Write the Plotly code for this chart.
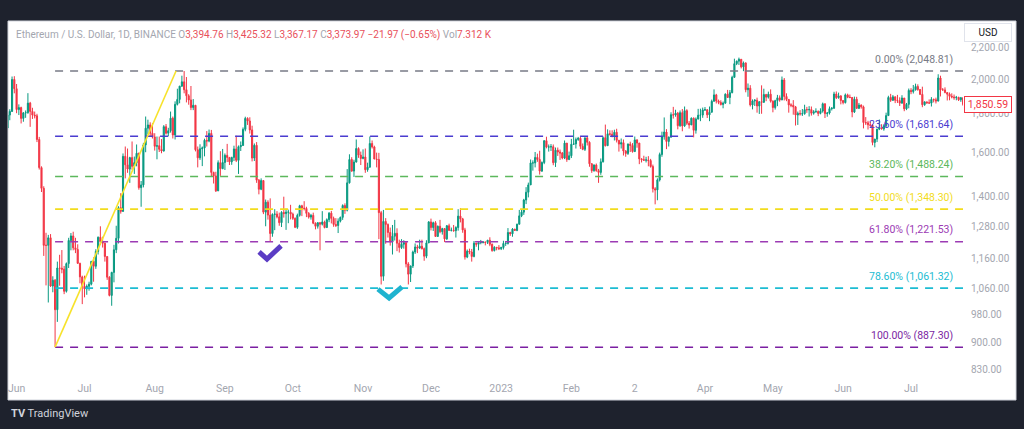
import math
import pandas as pd
import plotly.graph_objects as go

# ---------------- data ----------------
START_DATE = "2022-05-28"
FIRST_OPEN = 1724.0

close = [
    # May 28-31 2022
    1793, 1813, 1997, 1942,
    # Jun 2022
    1823, 1834, 1775, 1805, 1806, 1859, 1813, 1793, 1789, 1665,
    1529, 1436, 1208, 1208, 1236, 1068, 1087, 994, 1128, 1127,
    1124, 1051, 1143, 1226, 1243, 1199, 1193, 1144, 1098, 1067,
    # Jul 2022
    1059, 1067, 1074, 1151, 1134, 1186, 1238, 1222, 1216, 1168,
    1097, 1038, 1113, 1192, 1234, 1354, 1339, 1582, 1542, 1522,
    1576, 1535, 1552, 1597, 1439, 1451, 1638, 1723, 1740, 1697, 1678,
    # Aug 2022
    1631, 1634, 1616, 1608, 1731, 1697, 1710, 1776, 1688, 1852,
    1880, 1957, 1983, 1936, 1901, 1877, 1834, 1847, 1614, 1575,
    1619, 1623, 1661, 1657, 1696, 1507, 1491, 1425, 1552, 1524, 1553,
    # Sep 2022
    1587, 1577, 1556, 1577, 1618, 1563, 1629, 1635, 1717, 1775,
    1761, 1714, 1574, 1636, 1472, 1432, 1470, 1336, 1377, 1324,
    1252, 1327, 1328, 1317, 1294, 1335, 1330, 1336, 1336, 1328,
    # Oct 2022
    1311, 1276, 1323, 1362, 1352, 1351, 1331, 1316, 1323, 1292,
    1280, 1294, 1288, 1297, 1275, 1306, 1332, 1311, 1287, 1283,
    1300, 1315, 1363, 1344, 1460, 1567, 1513, 1555, 1620, 1588, 1572,
    # Nov 2022
    1579, 1519, 1531, 1645, 1628, 1569, 1567, 1334, 1100, 1299,
    1287, 1256, 1221, 1242, 1253, 1216, 1200, 1212, 1218, 1142,
    1107, 1135, 1184, 1202, 1198, 1205, 1196, 1169, 1217, 1297,
    # Dec 2022
    1275, 1294, 1241, 1280, 1259, 1271, 1232, 1282, 1264, 1265,
    1263, 1275, 1320, 1309, 1266, 1166, 1187, 1184, 1168, 1216,
    1212, 1218, 1219, 1220, 1219, 1227, 1212, 1189, 1201, 1199, 1196,
    # Jan 2023
    1200, 1215, 1215, 1256, 1251, 1269, 1264, 1288, 1321, 1336,
    1386, 1419, 1451, 1551, 1551, 1577, 1567, 1513, 1553, 1659,
    1627, 1628, 1629, 1552, 1612, 1603, 1598, 1574, 1647, 1567, 1585,
    # Feb 2023
    1641, 1643, 1665, 1671, 1631, 1616, 1673, 1651, 1547, 1515,
    1541, 1515, 1507, 1556, 1674, 1634, 1694, 1692, 1680, 1702,
    1661, 1642, 1649, 1608, 1596, 1642, 1635, 1605,
    # Mar 2023
    1663, 1647, 1570, 1566, 1564, 1565, 1562, 1534, 1434, 1429,
    1473, 1591, 1679, 1703, 1655, 1677, 1795, 1793, 1803, 1736,
    1806, 1735, 1817, 1749, 1740, 1776, 1712, 1771, 1792, 1793, 1821,
    # Apr 2023
    1822, 1794, 1808, 1869, 1906, 1871, 1863, 1851, 1859, 1910,
    1891, 1919, 2010, 2095, 2111, 2123, 2075, 2100, 1936, 1945,
    1849, 1871, 1875, 1843, 1867, 1864, 1908, 1893, 1910, 1870,
    # May 2023
    1834, 1873, 1889, 1877, 1994, 1897, 1880, 1849, 1847, 1838,
    1793, 1802, 1799, 1800, 1823, 1822, 1823, 1803, 1811, 1813,
    1802, 1815, 1855, 1801, 1804, 1828, 1831, 1911, 1890, 1900, 1874,
    # Jun 2023
    1862, 1906, 1892, 1891, 1810, 1881, 1830, 1848, 1838, 1753,
    1751, 1741, 1738, 1650, 1667, 1718, 1727, 1719, 1736, 1790,
    1891, 1875, 1895, 1875, 1873, 1859, 1888, 1827, 1852, 1932,
    # Jul 1-24 2023
    1925, 1936, 1955, 1937, 1909, 1850, 1866, 1861, 1859, 1880,
    1878, 1871, 2006, 1935, 1935, 1920, 1910, 1898, 1894, 1890,
    1892, 1878, 1890, 1850.59,
]

high = [
    1805, 1825, 2015, 2017,
    1970, 1852, 1839, 1809, 1818, 1916, 1866, 1833, 1812, 1800,
    1678, 1535, 1445, 1255, 1247, 1250, 1100, 1091, 1150, 1174,
    1191, 1135, 1147, 1236, 1254, 1259, 1236, 1212, 1146, 1102,
    1102, 1073, 1082, 1152, 1165, 1194, 1241, 1280, 1240, 1218,
    1168, 1100, 1115, 1210, 1282, 1360, 1415, 1596, 1630, 1620,
    1580, 1655, 1581, 1640, 1600, 1468, 1648, 1785, 1768, 1754, 1750,
    1697, 1680, 1680, 1667, 1739, 1745, 1725, 1812, 1785, 1869,
    1942, 1959, 2020, 2048.81, 2012, 1910, 1958, 1882, 1848, 1630,
    1641, 1630, 1669, 1708, 1716, 1714, 1510, 1510, 1563, 1607, 1618,
    1596, 1643, 1579, 1580, 1634, 1684, 1635, 1655, 1727, 1784,
    1781, 1781, 1736, 1645, 1652, 1477, 1480, 1472, 1388, 1385,
    1393, 1331, 1348, 1340, 1334, 1340, 1400, 1350, 1346, 1366,
    1334, 1315, 1330, 1366, 1366, 1381, 1358, 1336, 1329, 1334,
    1295, 1296, 1297, 1340, 1302, 1311, 1336, 1341, 1318, 1312,
    1311, 1318, 1368, 1372, 1522, 1592, 1578, 1566, 1665, 1626, 1605,
    1616, 1620, 1552, 1680, 1660, 1634, 1600, 1599, 1341, 1345,
    1312, 1291, 1275, 1285, 1305, 1272, 1229, 1231, 1227, 1224,
    1148, 1136, 1189, 1215, 1210, 1229, 1229, 1200, 1227, 1300,
    1310, 1298, 1300, 1283, 1305, 1274, 1273, 1285, 1290, 1275,
    1285, 1280, 1348, 1352, 1313, 1274, 1193, 1196, 1195, 1224,
    1217, 1221, 1228, 1224, 1222, 1228, 1238, 1215, 1205, 1202, 1209,
    1203, 1225, 1223, 1273, 1259, 1273, 1270, 1290, 1345, 1349,
    1391, 1441, 1461, 1567, 1563, 1603, 1595, 1609, 1558, 1661,
    1679, 1640, 1642, 1640, 1625, 1625, 1615, 1603, 1660, 1640, 1605,
    1668, 1715, 1675, 1678, 1680, 1645, 1676, 1680, 1656, 1550,
    1544, 1548, 1523, 1572, 1680, 1742, 1717, 1712, 1712, 1715,
    1720, 1662, 1670, 1665, 1612, 1645, 1654, 1647,
    1680, 1666, 1648, 1573, 1585, 1580, 1583, 1570, 1543, 1441,
    1480, 1600, 1705, 1780, 1718, 1680, 1808, 1838, 1822, 1810,
    1818, 1826, 1840, 1825, 1761, 1780, 1780, 1780, 1827, 1828, 1834,
    1837, 1825, 1840, 1879, 1938, 1912, 1879, 1875, 1868, 1915,
    1935, 1934, 2020, 2127, 2115, 2134, 2125, 2109, 2103, 1973,
    1963, 1880, 1882, 1890, 1870, 1962, 1942, 1912, 1925, 1938,
    1875, 1878, 1906, 1903, 2015, 2006, 1915, 1882, 1858, 1876,
    1843, 1812, 1820, 1826, 1850, 1838, 1842, 1840, 1820, 1830,
    1818, 1830, 1862, 1858, 1810, 1840, 1836, 1924, 1926, 1919, 1904,
    1875, 1914, 1913, 1908, 1894, 1896, 1895, 1860, 1852, 1845,
    1782, 1762, 1757, 1745, 1668, 1720, 1769, 1744, 1744, 1806,
    1901, 1912, 1905, 1896, 1906, 1892, 1904, 1887, 1860, 1943,
    1945, 1964, 1972, 1968, 1940, 1954, 1869, 1868, 1880, 1893,
    1885, 1890, 2029, 2020, 1946, 1950, 1920, 1920, 1915, 1908,
    1900, 1895, 1894, 1889,
]

low = [
    1715, 1765, 1810, 1915,
    1803, 1793, 1748, 1757, 1778, 1800, 1730, 1772, 1775, 1652,
    1520, 1420, 1170, 1070, 1016, 1065, 1048, 887.30, 958, 1069,
    1110, 1042, 1047, 1128, 1190, 1190, 1180, 1142, 1077, 1011,
    1032, 1040, 1053, 1070, 1082, 1125, 1175, 1210, 1200, 1150,
    1088, 1035, 1006, 1080, 1180, 1215, 1330, 1338, 1480, 1505,
    1460, 1519, 1500, 1535, 1430, 1358, 1440, 1602, 1691, 1680, 1670,
    1610, 1568, 1603, 1597, 1605, 1690, 1681, 1700, 1670, 1665,
    1846, 1858, 1953, 1915, 1863, 1850, 1820, 1820, 1606, 1530,
    1565, 1536, 1582, 1630, 1651, 1488, 1457, 1420, 1424, 1491, 1522,
    1518, 1555, 1541, 1542, 1560, 1555, 1500, 1608, 1634, 1707,
    1740, 1695, 1558, 1560, 1460, 1410, 1428, 1328, 1280, 1306,
    1221, 1240, 1265, 1311, 1282, 1277, 1314, 1266, 1292, 1307,
    1305, 1273, 1270, 1318, 1320, 1343, 1316, 1310, 1306, 1288,
    1268, 1271, 1190, 1283, 1272, 1274, 1296, 1291, 1278, 1277,
    1254, 1295, 1305, 1329, 1339, 1457, 1510, 1486, 1553, 1575, 1541,
    1568, 1505, 1510, 1529, 1620, 1569, 1530, 1231, 1073, 1085,
    1214, 1237, 1207, 1175, 1226, 1187, 1182, 1195, 1196, 1130,
    1073, 1081, 1128, 1177, 1180, 1195, 1193, 1153, 1162, 1217,
    1264, 1262, 1240, 1241, 1253, 1248, 1220, 1228, 1263, 1260,
    1259, 1237, 1263, 1295, 1255, 1157, 1162, 1176, 1150, 1165,
    1203, 1190, 1212, 1215, 1208, 1213, 1205, 1185, 1186, 1190, 1191,
    1191, 1193, 1206, 1211, 1243, 1240, 1262, 1261, 1287, 1316,
    1325, 1369, 1397, 1451, 1515, 1530, 1556, 1497, 1509, 1545,
    1621, 1605, 1608, 1540, 1532, 1584, 1565, 1568, 1569, 1556, 1564,
    1574, 1639, 1620, 1658, 1618, 1612, 1608, 1635, 1533, 1505,
    1510, 1510, 1460, 1496, 1553, 1630, 1637, 1685, 1676, 1660,
    1650, 1605, 1620, 1586, 1580, 1589, 1603, 1600,
    1604, 1624, 1545, 1553, 1560, 1553, 1535, 1529, 1418, 1368,
    1385, 1466, 1580, 1664, 1617, 1630, 1673, 1774, 1784, 1717,
    1730, 1707, 1730, 1740, 1721, 1740, 1676, 1695, 1770, 1760, 1778,
    1816, 1777, 1760, 1808, 1869, 1857, 1853, 1846, 1830, 1855,
    1888, 1853, 1915, 2008, 2086, 2087, 2065, 2048, 1921, 1895,
    1840, 1824, 1843, 1806, 1799, 1800, 1860, 1870, 1885, 1862,
    1808, 1823, 1842, 1867, 1876, 1874, 1870, 1806, 1836, 1795,
    1737, 1740, 1790, 1788, 1795, 1805, 1785, 1790, 1795, 1805,
    1787, 1797, 1806, 1777, 1784, 1796, 1818, 1826, 1882, 1884, 1852,
    1852, 1857, 1887, 1887, 1781, 1804, 1826, 1826, 1828, 1722,
    1740, 1716, 1732, 1636, 1626, 1652, 1713, 1716, 1710, 1730,
    1790, 1866, 1871, 1859, 1860, 1843, 1855, 1814, 1820, 1830,
    1910, 1914, 1931, 1930, 1905, 1836, 1844, 1855, 1855, 1840,
    1863, 1857, 1868, 1897, 1931, 1915, 1874, 1875, 1886, 1878,
    1875, 1871, 1866, 1843,
]

month_ticks = ["2022-06-01", "2022-07-01", "2022-08-01", "2022-09-01", "2022-10-01",
               "2022-11-01", "2022-12-01", "2023-01-01", "2023-02-01", "2023-03-01",
               "2023-04-01", "2023-05-01", "2023-06-01", "2023-07-01"]
month_labels = ["Jun", "Jul", "Aug", "Sep", "Oct", "Nov", "Dec", "2023",
                "Feb", "2", "Apr", "May", "Jun", "Jul"]
price_ticks = [830, 900, 980, 1060, 1160, 1280, 1400, 1600, 1800, 2000, 2200]

fib_ratios = [0.0, 0.236, 0.382, 0.5, 0.618, 0.786, 1.0]
fib_prices = [2048.81, 1681.64, 1488.24, 1348.30, 1221.53, 1061.32, 887.30]
fib_colors = ["#787b86", "#4a3cd0", "#5cb85c", "#f2dc1c", "#9c3bb4", "#1cbcd2", "#7b1fa2"]
fib_start = "2022-06-18"
fib_end = "2023-09-01"

trend_dates = ["2022-06-18", "2022-08-10 10:00"]
trend_prices = [887.30, 2048.81]

check1_dates = ["2022-09-16 02:00", "2022-09-19 14:00", "2022-09-25 19:00"]
check1_prices = [1184, 1159, 1206]
check2_dates = ["2022-11-07 14:00", "2022-11-12 12:00", "2022-11-18 05:00"]
check2_prices = [1058, 1030, 1065]

header_title = "Ethereum / U.S. Dollar, 1D, BINANCE"
header_keys = ["O", "H", "L", "C"]
header_vals = ["3,394.76", "3,425.32", "3,367.17", "3,373.97"]
header_change = "−21.97 (−0.65%)"
header_vol = "7.312 K"

# ---------------- build ----------------
dates = pd.date_range(START_DATE, periods=len(close), freq="D")
opens = [FIRST_OPEN] + close[:-1]
highs = [max(h, o, c) for h, o, c in zip(high, opens, close)]
lows = [min(l, o, c) for l, o, c in zip(low, opens, close)]

UP = "#089981"
DOWN = "#f23645"
GRAY_TXT = "#a3a6af"
FONT = "Roboto"

fig = go.Figure()
fig.add_trace(go.Candlestick(
    x=dates, open=opens, high=highs, low=lows, close=close,
    increasing=dict(line=dict(color=UP, width=1), fillcolor=UP),
    decreasing=dict(line=dict(color=DOWN, width=1), fillcolor=DOWN),
    whiskerwidth=0, showlegend=False, hoverinfo="skip",
))

for r, p, col in zip(fib_ratios, fib_prices, fib_colors):
    fig.add_trace(go.Scatter(
        x=[fib_start, fib_end], y=[p, p], mode="lines",
        line=dict(color=col, width=1.6, dash="8px,7px"),
        showlegend=False, hoverinfo="skip"))
    fig.add_annotation(
        x=0.9916, xref="paper", xanchor="right",
        y=math.log10(p), yref="y", yanchor="middle", yshift=12,
        text=f"{r*100:.2f}% ({p:,.2f})", showarrow=False,
        font=dict(family=FONT, size=10.5, color=col))

fig.add_trace(go.Scatter(x=trend_dates, y=trend_prices, mode="lines",
                         line=dict(color="#f7e22b", width=1.6),
                         showlegend=False, hoverinfo="skip"))
fig.add_trace(go.Scatter(x=check1_dates, y=check1_prices, mode="lines",
                         line=dict(color="#5b3cc4", width=5),
                         showlegend=False, hoverinfo="skip"))
fig.add_trace(go.Scatter(x=check2_dates, y=check2_prices, mode="lines",
                         line=dict(color="#1fb3cf", width=5),
                         showlegend=False, hoverinfo="skip"))

# header
red = "#e8505b"
parts = [f"<span style='color:{GRAY_TXT}'>{header_title}</span>"]
for k, v in zip(header_keys, header_vals):
    parts.append(f"&nbsp;<span style='color:{GRAY_TXT}'>{k}</span><span style='color:{red}'>{v}</span>")
parts.append(f"&nbsp;<span style='color:{red}'>{header_change}</span>")
parts.append(f"&nbsp;<span style='color:{GRAY_TXT}'>Vol</span><span style='color:{red}'>{header_vol}</span>")
fig.add_annotation(x=0.0063, xref="paper", xanchor="left", y=0.9606, yref="paper",
                   yanchor="middle", text="".join(parts), showarrow=False,
                   font=dict(family=FONT, size=10))

# USD box & price label
fig.add_annotation(x=1.0262, xref="paper", xanchor="center", y=0.968, yref="paper",
                   yanchor="middle", text="USD",
                   showarrow=False, bgcolor="white", bordercolor="#e0e3eb",
                   borderwidth=1, borderpad=2, width=42, height=13,
                   font=dict(family=FONT, size=10, color="#131722"))
last = close[-1]
fig.add_annotation(x=1.0257, xref="paper", xanchor="center", y=math.log10(last), yref="y",
                   yanchor="middle",
                   text=f"{last:,.2f}", showarrow=False, bgcolor="white",
                   bordercolor=DOWN, borderwidth=1, borderpad=1, width=44,
                   font=dict(family=FONT, size=10.5, color=DOWN))

# TradingView logo
fig.add_annotation(x=0.0012, xref="paper", xanchor="left", y=-0.107, yref="paper",
                   yanchor="middle",
                   text="<b>TV</b> TradingView", showarrow=False,
                   font=dict(family=FONT, size=11, color="#d1d4dc"))

fig.update_layout(
    width=1024, height=429,
    margin=dict(l=8, r=61, t=21, b=53),
    paper_bgcolor="#1e222d", plot_bgcolor="white",
    showlegend=False,
    shapes=[
        dict(type="rect", xref="paper", yref="paper", x0=0, x1=1.0555,
             y0=-0.0676, y1=1.0, fillcolor="white", line=dict(color="#d1d4dc", width=1),
             layer="below"),
    ],
    xaxis=dict(type="date", range=["2022-05-28 05:00", "2023-07-23 22:50"],
               tickvals=month_ticks, ticktext=month_labels,
               showgrid=False, zeroline=False, showline=False, ticks="",
               tickfont=dict(family=FONT, size=10.5, color=GRAY_TXT),
               ticklabelstandoff=4,
               rangeslider=dict(visible=False)),
    yaxis=dict(type="log", side="right",
               range=[math.log10(813.1), math.log10(2384.3)],
               tickvals=price_ticks, ticktext=[f"{v:,.2f}" for v in price_ticks],
               showgrid=False, zeroline=False, showline=False, ticks="",
               tickfont=dict(family=FONT, size=10, color=GRAY_TXT),
               ticklabelstandoff=7),
)

fig.write_html("out.html")
